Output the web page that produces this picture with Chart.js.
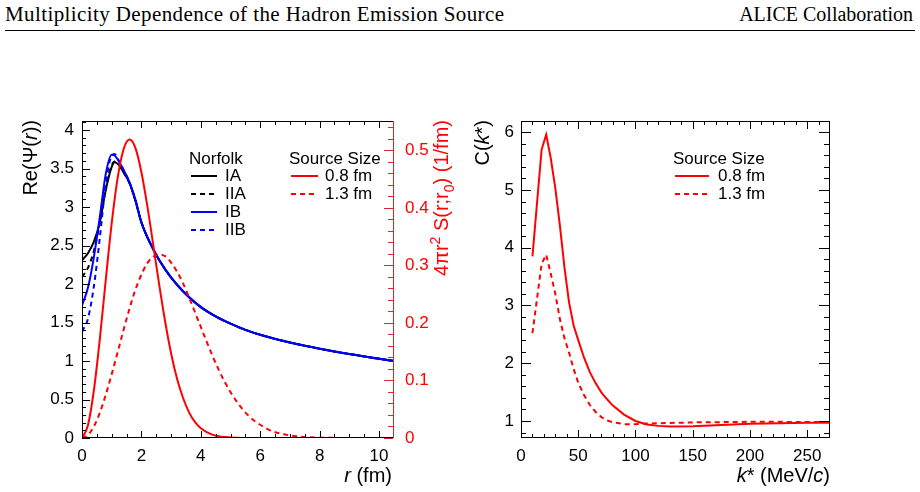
<!DOCTYPE html>
<html lang="en">
<head>
<meta charset="UTF-8" />
<title>Multiplicity Dependence of the Hadron Emission Source</title>
<style>
    body {
        margin: 0;
        background: #fff;
        width: 920px;
        height: 492px;
        position: relative;
        overflow: hidden;
    }

    .hdr {
        position: absolute;
        top: 2px;
        font-family: "Liberation Serif", "Times New Roman", serif;
        font-size: 21px;
        color: #000;
        white-space: nowrap;
    }

    #rule {
        position: absolute;
        left: 5px;
        width: 910px;
        top: 30px;
        border-top: 1px solid #000;
    }

    canvas {
        position: absolute;
        top: 0;
    }
</style>
</head>
<body>
<div class="hdr" style="left:5px; letter-spacing:0.4px">Multiplicity Dependence of the Hadron Emission Source</div>
<div class="hdr" style="right:7px; font-size:20px; top:3px">ALICE Collaboration</div>
<div id="rule"></div>
<canvas id="left" width="460" height="492" style="left:0"></canvas>
<canvas id="right" width="460" height="492" style="left:460px"></canvas>

<script src="https://cdn.jsdelivr.net/npm/chart.js@4/dist/chart.umd.min.js"></script>
<script>
// ---- left panel: Re(Psi(r)) for the Norfolk potentials (left axis)
const rPsi = [0, 0.2, 0.4, 0.6, 0.8, 1.0, 1.1, 1.2, 1.4, 1.6, 1.8, 2.0, 2.4, 2.8, 3.2, 3.6, 4.0, 4.5, 5, 5.5, 6, 7, 8, 9, 10, 10.5];
const psiIA  = [2.31, 2.40, 2.55, 2.80, 3.22, 3.52, 3.58, 3.56, 3.45, 3.31, 3.08, 2.80, 2.45, 2.19, 1.99, 1.83, 1.70, 1.58, 1.485, 1.405, 1.34, 1.24, 1.16, 1.09, 1.03, 1.00];
const psiIIA = [2.09, 2.21, 2.43, 2.80, 3.25, 3.54, 3.59, 3.57, 3.45, 3.31, 3.08, 2.80, 2.45, 2.19, 1.99, 1.83, 1.70, 1.58, 1.485, 1.405, 1.34, 1.24, 1.16, 1.09, 1.03, 1.00];
const psiIB  = [1.72, 1.95, 2.35, 2.87, 3.43, 3.68, 3.67, 3.62, 3.48, 3.32, 3.09, 2.80, 2.45, 2.19, 1.99, 1.83, 1.70, 1.58, 1.485, 1.405, 1.34, 1.24, 1.16, 1.09, 1.03, 1.00];
const psiIIB = [1.38, 1.55, 1.97, 2.60, 3.30, 3.67, 3.69, 3.63, 3.48, 3.32, 3.09, 2.80, 2.45, 2.19, 1.99, 1.83, 1.70, 1.58, 1.485, 1.405, 1.34, 1.24, 1.16, 1.09, 1.03, 1.00];

// ---- left panel: 4 pi r^2 S(r) for two source sizes (right axis)
const rSrc = [0, 0.2, 0.4, 0.6, 0.8, 1.0, 1.2, 1.4, 1.6, 1.8, 2.0, 2.2, 2.4, 2.6, 2.8, 3.0, 3.2, 3.4, 3.6, 3.8, 4.0, 4.4, 4.8, 5.2, 5.6, 6.0, 6.4, 6.8, 7.2, 7.6, 8.0, 8.5, 9.0, 10.5];
const src08 = [0, 0.022, 0.083, 0.172, 0.275, 0.373, 0.452, 0.502, 0.519, 0.504, 0.462, 0.403, 0.335, 0.266, 0.202, 0.147, 0.103, 0.070, 0.045, 0.028, 0.017, 0.0055, 0.0016, 0.0004, 0, 0, 0, 0, 0, 0, 0, 0, 0, 0];
const src13 = [0, 0.005, 0.020, 0.044, 0.075, 0.111, 0.149, 0.188, 0.225, 0.258, 0.284, 0.304, 0.315, 0.319, 0.316, 0.305, 0.289, 0.269, 0.245, 0.219, 0.193, 0.142, 0.098, 0.064, 0.039, 0.023, 0.012, 0.0064, 0.0031, 0.0014, 0.0006, 0.0002, 0, 0];

// ---- right panel: correlation function C(k*)
const kStar = [10, 18, 22, 26, 30, 34, 38, 42, 46, 50, 55, 60, 65, 70, 75, 80, 90, 100, 110, 120, 130, 150, 175, 200, 225, 250, 269];
const ck08 = [3.85, 5.70, 5.96, 5.55, 5.03, 4.38, 3.65, 3.05, 2.65, 2.40, 2.10, 1.85, 1.66, 1.50, 1.38, 1.27, 1.11, 1.00, 0.94, 0.915, 0.905, 0.91, 0.93, 0.95, 0.96, 0.97, 0.97];
const ck13 = [2.52, 3.72, 3.88, 3.55, 3.20, 2.76, 2.43, 2.18, 1.90, 1.66, 1.45, 1.28, 1.16, 1.07, 1.01, 0.98, 0.945, 0.945, 0.955, 0.96, 0.965, 0.975, 0.98, 0.985, 0.985, 0.98, 0.98];

// tick labels
const rTicks = [0, 2, 4, 6, 8, 10];
const psiTicks = [0, 0.5, 1, 1.5, 2, 2.5, 3, 3.5, 4];
const srcTicks = [0, 0.1, 0.2, 0.3, 0.4, 0.5];
const kTicks = [0, 50, 100, 150, 200, 250];
const cTicks = [1, 2, 3, 4, 5, 6];

const FONT = '"Liberation Sans", Arial, Helvetica, sans-serif';
Chart.defaults.font.family = FONT;
Chart.defaults.color = '#000';

const pts = (xs, ys) => xs.map((x, i) => ({ x: x, y: ys[i] }));
const fixed = arr => s => { s.ticks = arr.map(v => ({ value: v })); };
const plain = v => String(Math.round(v * 1000) / 1000);

function line(label, xs, ys, color, dashed, axis) {
    return {
        label: label,
        data: pts(xs, ys),
        borderColor: color,
        borderWidth: 2,
        borderDash: dashed ? [5, 4] : [],
        pointRadius: 0,
        fill: false,
        cubicInterpolationMode: 'monotone',
        yAxisID: axis || 'y'
    };
}

// text made of pieces: {t, i (italic), sup, sub}
function richText(ctx, parts, x, y, align, rotate, size, color) {
    ctx.save();
    ctx.translate(x, y);
    if (rotate) ctx.rotate(-Math.PI / 2);
    ctx.fillStyle = color || '#000';
    ctx.textBaseline = 'alphabetic';
    const fontOf = p => (p.i ? 'italic ' : '') + Math.round(p.sup || p.sub ? size * 0.68 : size) + 'px ' + FONT;
    let total = 0;
    parts.forEach(p => { ctx.font = fontOf(p); total += ctx.measureText(p.t).width; });
    let cx = align === 'right' ? -total : align === 'center' ? -total / 2 : 0;
    parts.forEach(p => {
        ctx.font = fontOf(p);
        const dy = p.sup ? -size * 0.4 : p.sub ? size * 0.28 : 0;
        ctx.fillText(p.t, cx, dy);
        cx += ctx.measureText(p.t).width;
    });
    ctx.restore();
}

// ROOT style inner ticks
function ticks(ctx, scale, side, major, minor, majLen, minLen, color) {
    const a = scale.chart.chartArea;
    ctx.save();
    ctx.strokeStyle = color;
    ctx.lineWidth = 1;
    ctx.beginPath();
    const start = Math.ceil(scale.min / minor - 1e-6) * minor;
    for (let i = 0; ; i++) {
        const v = start + i * minor;
        if (v > scale.max + 1e-9) break;
        const isMaj = Math.abs(v / major - Math.round(v / major)) < 1e-6;
        const len = isMaj ? majLen : minLen;
        const p = Math.round(scale.getPixelForValue(v)) + 0.5;
        if (side === 'bottom') { ctx.moveTo(p, a.bottom); ctx.lineTo(p, a.bottom - len); }
        if (side === 'top') { ctx.moveTo(p, a.top); ctx.lineTo(p, a.top + len); }
        if (side === 'left') { ctx.moveTo(a.left, p); ctx.lineTo(a.left + len, p); }
        if (side === 'right') { ctx.moveTo(a.right, p); ctx.lineTo(a.right - len, p); }
    }
    ctx.stroke();
    ctx.restore();
}

function legendRow(ctx, ds, x0, x1, tx, y) {
    ctx.save();
    ctx.strokeStyle = ds.borderColor;
    ctx.lineWidth = 2;
    ctx.setLineDash(ds.borderDash);
    ctx.beginPath();
    ctx.moveTo(x0, y);
    ctx.lineTo(x1, y);
    ctx.stroke();
    ctx.restore();
    ctx.fillStyle = '#000';
    ctx.font = '17px ' + FONT;
    ctx.textBaseline = 'middle';
    ctx.fillText(ds.label, tx, y);
}

const leftDeco = {
    id: 'leftDeco',
    afterDraw(chart) {
        const ctx = chart.ctx;
        const a = chart.chartArea;
        const s = chart.scales;
        ctx.save();
        ctx.strokeStyle = '#000';
        ctx.lineWidth = 1;
        ctx.beginPath();
        ctx.moveTo(a.right, a.top + 0.5);
        ctx.lineTo(a.left + 0.5, a.top + 0.5);
        ctx.lineTo(a.left + 0.5, a.bottom - 0.5);
        ctx.lineTo(a.right, a.bottom - 0.5);
        ctx.stroke();
        ctx.strokeStyle = '#d42a2a';
        ctx.beginPath();
        ctx.moveTo(a.right + 0.5, a.top);
        ctx.lineTo(a.right + 0.5, a.bottom);
        ctx.stroke();
        ctx.restore();
        ticks(ctx, s.x, 'bottom', 2, 0.5, 7, 4, '#000');
        ticks(ctx, s.x, 'top', 2, 0.5, 7, 4, '#000');
        ticks(ctx, s.y, 'left', 0.5, 0.1, 8, 4, '#000');
        ticks(ctx, s.y2, 'right', 0.1, 0.02, 9, 5, '#d42a2a');

        richText(ctx, [{ t: 'Re(Ψ(' }, { t: 'r', i: true }, { t: '))' }], 37, 120, 'right', true, 20);
        richText(ctx, [{ t: '4πr' }, { t: '2', sup: true }, { t: ' S(r;r' }, { t: '0', sub: true }, { t: ') (1/fm)' }],
            448, 120, 'right', true, 20, '#ff0000');
        richText(ctx, [{ t: 'r', i: true }, { t: ' (fm)' }], 392, 482, 'right', false, 20);

        const ds = chart.data.datasets;
        const byLabel = l => ds.find(d => d.label === l);
        ctx.fillStyle = '#000';
        ctx.font = '17px ' + FONT;
        ctx.textBaseline = 'middle';
        ctx.fillText('Norfolk', 189, 159);
        ctx.fillText('Source Size', 289, 159);
        ['IA', 'IIA', 'IB', 'IIB'].forEach((l, i) => legendRow(ctx, byLabel(l), 191, 217, 225, 176 + i * 18));
        ['0.8 fm', '1.3 fm'].forEach((l, i) => legendRow(ctx, byLabel(l), 291, 318, 325, 176 + i * 18));
    }
};

const rightDeco = {
    id: 'rightDeco',
    afterDraw(chart) {
        const ctx = chart.ctx;
        const a = chart.chartArea;
        const s = chart.scales;
        ctx.save();
        ctx.strokeStyle = '#000';
        ctx.lineWidth = 1;
        ctx.strokeRect(a.left + 0.5, a.top + 0.5, a.right - a.left, a.bottom - a.top - 1);
        ctx.restore();
        ticks(ctx, s.x, 'bottom', 50, 10, 8, 4, '#000');
        ticks(ctx, s.x, 'top', 50, 10, 8, 4, '#000');
        ticks(ctx, s.y, 'left', 1, 0.2, 10, 5, '#000');
        ticks(ctx, s.y, 'right', 1, 0.2, 10, 5, '#000');

        richText(ctx, [{ t: 'C(' }, { t: 'k', i: true }, { t: '*)' }], 29, 120, 'right', true, 20);
        richText(ctx, [{ t: 'k', i: true }, { t: '* (MeV/' }, { t: 'c', i: true }, { t: ')' }], 370, 482, 'right', false, 20);

        const ds = chart.data.datasets;
        ctx.fillStyle = '#000';
        ctx.font = '17px ' + FONT;
        ctx.textBaseline = 'middle';
        ctx.fillText('Source Size', 213, 159);
        legendRow(ctx, ds[0], 215, 249, 258, 176);
        legendRow(ctx, ds[1], 215, 249, 258, 194);
    }
};

const tickFont = { size: 17, family: FONT };

new Chart(document.getElementById('left'), {
    type: 'line',
    data: {
        datasets: [
            line('0.8 fm', rSrc, src08, '#ff0000', false, 'y2'),
            line('1.3 fm', rSrc, src13, '#ff0000', true, 'y2'),
            line('IIB', rPsi, psiIIB, '#0000ff', true),
            line('IB', rPsi, psiIB, '#0000ff', false),
            line('IIA', rPsi, psiIIA, '#000000', true),
            line('IA', rPsi, psiIA, '#000000', false)
        ]
    },
    options: {
        responsive: false,
        animation: false,
        layout: { padding: { top: 121, left: 0, right: 0, bottom: 0 } },
        plugins: { legend: { display: false }, tooltip: { enabled: false } },
        scales: {
            x: {
                type: 'linear', min: 0, max: 10.47,
                grid: { display: false, drawTicks: false }, border: { display: false },
                ticks: { font: tickFont, padding: 8, maxRotation: 0, callback: plain },
                afterBuildTicks: fixed(rTicks),
                afterFit: s => { s.height = 54; }
            },
            y: {
                type: 'linear', position: 'left', min: 0, max: 4.117,
                grid: { display: false, drawTicks: false }, border: { display: false },
                ticks: { font: tickFont, padding: 8, callback: plain },
                afterBuildTicks: fixed(psiTicks),
                afterFit: s => { s.width = 82; }
            },
            y2: {
                type: 'linear', position: 'right', min: 0, max: 0.551,
                grid: { display: false, drawTicks: false }, border: { display: false },
                ticks: { font: tickFont, padding: 12, color: '#ff0000', callback: plain },
                afterBuildTicks: fixed(srcTicks),
                afterFit: s => { s.width = 67; }
            }
        }
    },
    plugins: [leftDeco]
});

new Chart(document.getElementById('right'), {
    type: 'line',
    data: {
        datasets: [
            Object.assign(line('0.8 fm', kStar, ck08, '#ff0000', false), { cubicInterpolationMode: 'default', tension: 0 }),
            Object.assign(line('1.3 fm', kStar, ck13, '#ff0000', true), { cubicInterpolationMode: 'default', tension: 0 })
        ]
    },
    options: {
        responsive: false,
        animation: false,
        layout: { padding: { top: 121, left: 0, right: 91, bottom: 0 } },
        plugins: { legend: { display: false }, tooltip: { enabled: false } },
        scales: {
            x: {
                type: 'linear', min: 0, max: 269,
                grid: { display: false, drawTicks: false }, border: { display: false },
                ticks: { font: tickFont, padding: 8, maxRotation: 0, callback: plain },
                afterBuildTicks: fixed(kTicks),
                afterFit: s => { s.height = 54; }
            },
            y: {
                type: 'linear', position: 'left', min: 0.705, max: 6.195,
                grid: { display: false, drawTicks: false }, border: { display: false },
                ticks: { font: tickFont, padding: 7, callback: plain },
                afterBuildTicks: fixed(cTicks),
                afterFit: s => { s.width = 61; }
            }
        }
    },
    plugins: [rightDeco]
});
</script>
</body>
</html>
